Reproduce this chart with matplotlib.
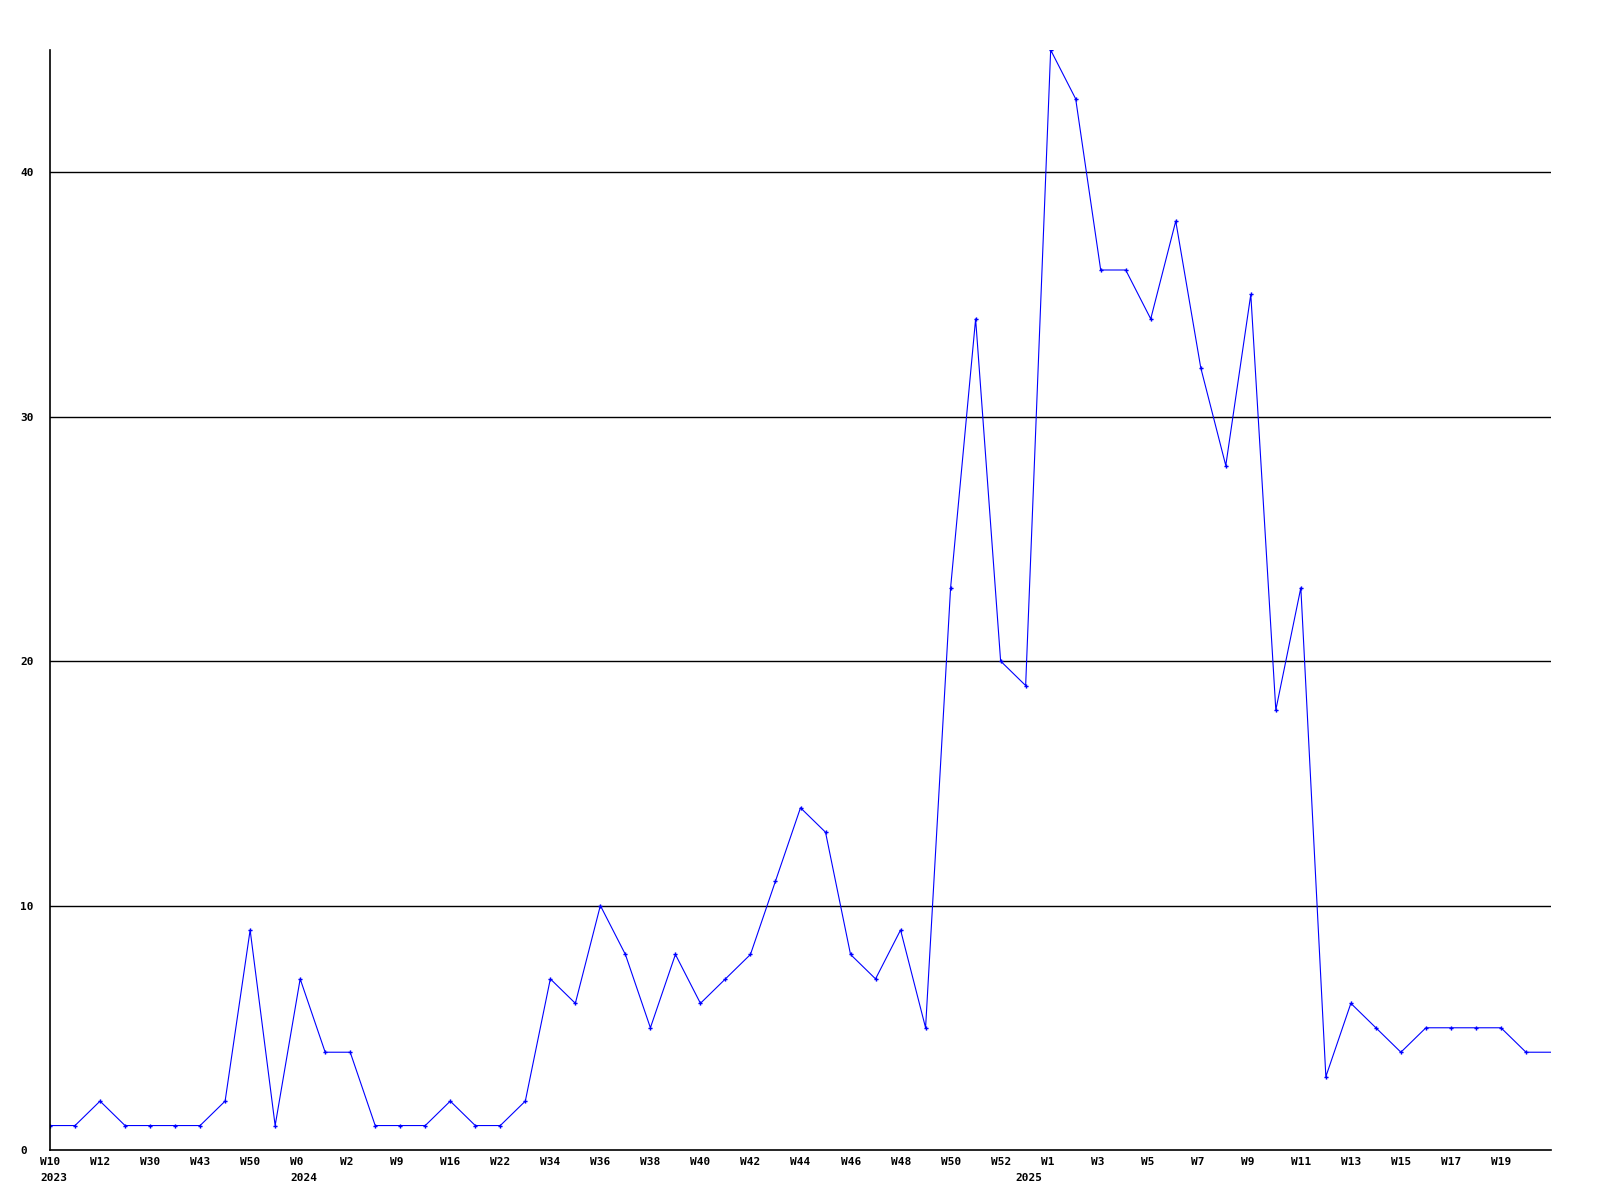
#!/usr/bin/env python3
# -*- coding: utf-8 -*-

import matplotlib
matplotlib.use("Agg")
import matplotlib.pyplot as plt
import matplotlib.transforms as mtransforms

# weekly counts, one per week (the last value only extends the line to the edge)
values = [1, 1, 2, 1, 1, 1, 1, 2, 9, 1,
          7, 4, 4, 1, 1, 1, 2, 1, 1, 2,
          7, 6, 10, 8, 5, 8, 6, 7, 8, 11,
          14, 13, 8, 7, 9, 5, 23, 34, 20, 19,
          45, 43, 36, 36, 34, 38, 32, 28, 35, 18,
          23, 3, 6, 5, 4, 5, 5, 5, 5, 4,
          4]
n_marked = 60

week_labels = ["W10", "W12", "W30", "W43", "W50", "W0", "W2", "W9", "W16", "W22",
               "W34", "W36", "W38", "W40", "W42", "W44", "W46", "W48", "W50", "W52",
               "W1", "W3", "W5", "W7", "W9", "W11", "W13", "W15", "W17", "W19"]
week_pos = list(range(0, 60, 2))

year_labels = ["2023", "2024", "2025"]
year_pos = [0, 10, 39]

y_ticks = [0, 10, 20, 30, 40]

font = {"family": "DejaVu Sans Mono", "weight": "bold", "size": 8}


def main():
    fig = plt.figure(figsize=(16, 12), dpi=100)
    ax = fig.add_axes([50 / 1600, 50 / 1200, 1501 / 1600, 1100 / 1200])

    xs = list(range(len(values)))
    ax.plot(xs, values, color="#0000ff", linewidth=0.8)
    ax.plot(xs[:n_marked], values[:n_marked], linestyle="none", marker="P",
            markersize=3, markeredgewidth=0, color="#0000ff")

    ax.set_xlim(0, 60)
    ax.set_ylim(0, 45)

    for s in ["top", "right"]:
        ax.spines[s].set_visible(False)
    for s in ["left", "bottom"]:
        ax.spines[s].set_linewidth(1.2)
        ax.spines[s].set_color("black")

    # horizontal grid lines
    for y in y_ticks[1:]:
        ax.axhline(y, color="black", linewidth=1, zorder=0)

    ax.set_yticks(y_ticks)
    ax.set_yticklabels([str(v) for v in y_ticks], fontdict=font)
    ax.tick_params(axis="y", length=0, pad=21.6)
    for lbl in ax.get_yticklabels():
        lbl.set_horizontalalignment("left")

    ax.set_xticks(week_pos)
    ax.set_xticklabels(week_labels, fontdict=font)
    ax.tick_params(axis="x", length=0, pad=5)
    shift = mtransforms.ScaledTranslation(-10 / 100, 0, fig.dpi_scale_trans)
    for lbl in ax.get_xticklabels():
        lbl.set_horizontalalignment("left")
        lbl.set_transform(lbl.get_transform() + shift)

    trans = ax.get_xaxis_transform()
    for lab, pos in zip(year_labels, year_pos):
        t = ax.text(pos, 0, lab, transform=trans, ha="left", va="top", **font)
        t.set_transform(trans + mtransforms.ScaledTranslation(-10 / 100, -23 / 100, fig.dpi_scale_trans))

    fig.savefig("out.png", dpi=100)
    plt.close(fig)


if __name__ == "__main__":
    main()
